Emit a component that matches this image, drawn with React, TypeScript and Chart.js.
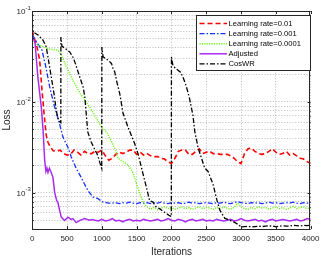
import React, { useEffect, useRef } from "react";
import { Chart, registerables } from "chart.js";

Chart.register(...registerables);

// ---- data (iteration, loss) ----
const seriesNames = ["Learning rate=0.01", "Learning rate=0.001", "Learning rate=0.0001", "Adjusted", "CosWR"];

const lr01: [number, number][] = [
  [0, 0.061], [25, 0.05], [57, 0.044], [106, 0.0288], [140, 0.0132], [178, 6.3e-3], [200, 4.3e-3], [225, 3.6e-3],
  [250, 3.3e-3], [300, 2.9e-3], [350, 2.86e-3], [400, 2.95e-3], [450, 2.7e-3], [500, 2.6e-3], [550, 2.65e-3],
  [600, 2.95e-3], [650, 2.8e-3], [700, 2.6e-3], [750, 2.86e-3], [800, 2.7e-3], [850, 2.7e-3], [900, 2.86e-3],
  [950, 2.8e-3], [1000, 2.95e-3], [1050, 2.55e-3], [1100, 2.28e-3], [1150, 2.4e-3], [1200, 2.65e-3], [1250, 2.8e-3],
  [1300, 2.7e-3], [1350, 2.8e-3], [1400, 2.95e-3], [1450, 2.95e-3], [1500, 2.65e-3], [1550, 2.8e-3], [1600, 2.6e-3],
  [1650, 2.7e-3], [1700, 2.55e-3], [1750, 2.5e-3], [1800, 2.5e-3], [1850, 2.4e-3], [1900, 2.35e-3], [1950, 2.2e-3],
  [2000, 2.1e-3], [2050, 2.4e-3], [2100, 2.86e-3], [2150, 2.95e-3], [2200, 2.95e-3], [2250, 2.65e-3], [2300, 2.65e-3],
  [2350, 2.86e-3], [2400, 3.05e-3], [2450, 2.7e-3], [2500, 2.8e-3], [2550, 2.86e-3], [2600, 2.7e-3], [2650, 2.7e-3],
  [2700, 2.65e-3], [2750, 2.65e-3], [2800, 2.65e-3], [2850, 2.55e-3], [2900, 2.4e-3], [2950, 2.2e-3], [3000, 2.1e-3],
  [3050, 2.7e-3], [3100, 3.05e-3], [3150, 3.1e-3], [3200, 2.86e-3], [3250, 2.7e-3], [3300, 2.65e-3], [3350, 2.7e-3],
  [3400, 2.86e-3], [3450, 3.05e-3], [3500, 2.8e-3], [3550, 2.65e-3], [3600, 2.7e-3], [3650, 2.86e-3], [3700, 2.6e-3],
  [3750, 2.7e-3], [3800, 2.55e-3], [3850, 2.4e-3], [3900, 2.35e-3], [3950, 2.2e-3], [4000, 2.1e-3],
];

const lr001: [number, number][] = [
  [0, 0.055], [70, 0.0444], [140, 0.037], [195, 0.0242], [250, 0.0146], [320, 8.8e-3], [370, 6.6e-3], [415, 4.9e-3],
  [440, 4.1e-3], [510, 3.19e-3], [560, 2.48e-3], [630, 1.86e-3], [700, 1.49e-3], [750, 1.25e-3], [800, 1.06e-3],
  [870, 8.98e-4], [940, 8.67e-4], [1010, 7.93e-4], [1060, 7.8e-4], [1100, 7.7e-4],
  [1150, 7.7e-4], [1200, 7.8e-4], [1250, 7.6e-4], [1300, 7.8e-4], [1350, 7.7e-4], [1400, 7.9e-4], [1450, 7.7e-4],
  [1500, 7.6e-4], [1550, 7.8e-4], [1600, 7.7e-4], [1650, 7.8e-4], [1700, 7.6e-4], [1750, 7.8e-4], [1800, 7.7e-4],
  [1850, 7.9e-4], [1900, 7.7e-4], [1950, 7.6e-4], [2000, 7.8e-4], [2050, 7.7e-4], [2100, 7.8e-4], [2150, 7.6e-4],
  [2200, 7.7e-4], [2250, 7.9e-4], [2300, 7.7e-4], [2350, 7.8e-4], [2400, 7.6e-4], [2450, 7.7e-4], [2500, 7.8e-4],
  [2550, 7.7e-4], [2600, 7.6e-4], [2650, 7.8e-4], [2700, 7.7e-4], [2750, 7.9e-4], [2800, 7.7e-4], [2850, 7.6e-4],
  [2900, 7.8e-4], [2950, 8.0e-4], [3000, 7.8e-4], [3050, 7.7e-4], [3100, 7.6e-4], [3150, 7.8e-4], [3200, 7.7e-4],
  [3250, 7.8e-4], [3300, 7.6e-4], [3350, 7.7e-4], [3400, 7.9e-4], [3450, 7.7e-4], [3500, 7.8e-4], [3550, 7.6e-4],
  [3600, 7.7e-4], [3650, 7.8e-4], [3700, 7.7e-4], [3750, 7.9e-4], [3800, 7.7e-4], [3850, 7.6e-4], [3900, 7.8e-4],
  [3950, 7.7e-4], [4000, 7.8e-4],
];

const lr0001: [number, number][] = [
  [0, 0.047], [60, 0.042], [140, 0.041], [250, 0.038], [370, 0.037], [420, 0.0327], [490, 0.0243], [580, 0.0175],
  [684, 0.0125], [827, 8.7e-3], [1010, 5.1e-3], [1070, 4.64e-3], [1185, 3.11e-3], [1230, 2.4e-3], [1300, 2.22e-3],
  [1370, 2.04e-3], [1440, 1.72e-3], [1500, 1.24e-3], [1545, 9.85e-4], [1590, 8.03e-4], [1640, 7.08e-4],
  [1700, 6.6e-4], [1750, 6.9e-4], [1800, 6.5e-4], [1850, 6.8e-4], [1900, 7.0e-4], [1950, 6.7e-4], [2000, 6.9e-4],
  [2050, 6.6e-4], [2100, 6.8e-4], [2150, 7.0e-4], [2200, 6.7e-4], [2250, 6.9e-4], [2300, 6.6e-4], [2350, 6.8e-4],
  [2400, 7.0e-4], [2450, 6.7e-4], [2500, 6.9e-4], [2550, 6.8e-4], [2600, 6.6e-4], [2650, 6.9e-4], [2700, 6.7e-4],
  [2750, 7.0e-4], [2800, 6.8e-4], [2850, 6.6e-4], [2900, 6.9e-4], [2950, 7.7e-4], [3000, 7.1e-4], [3050, 6.7e-4],
  [3100, 6.6e-4], [3150, 6.9e-4], [3200, 6.7e-4], [3250, 7.0e-4], [3300, 6.8e-4], [3350, 6.9e-4], [3400, 6.6e-4],
  [3450, 6.8e-4], [3500, 7.0e-4], [3550, 6.7e-4], [3600, 6.9e-4], [3650, 6.6e-4], [3700, 6.8e-4], [3750, 7.1e-4],
  [3800, 6.7e-4], [3850, 6.9e-4], [3900, 7.0e-4], [3950, 6.7e-4], [4000, 6.9e-4],
];

const adjusted: [number, number][] = [
  [0, 0.053], [40, 0.0444], [80, 0.0187], [130, 8.7e-3], [155, 4.87e-3], [178, 2.28e-3], [196, 1.72e-3],
  [211, 1.86e-3], [225, 1.67e-3], [246, 1.86e-3], [272, 1.67e-3], [297, 1.48e-3], [321, 1.01e-3], [350, 8.24e-4],
  [368, 7.85e-4], [393, 6.4e-4], [416, 5.4e-4], [464, 4.96e-4], [512, 5.4e-4], [555, 5.1e-4], [583, 5.2e-4],
  [631, 4.7e-4], [679, 4.95e-4], [751, 5.2e-4], [820, 5.0e-4], [860, 5.1e-4],
  [900, 5.0e-4], [950, 4.9e-4], [1000, 5.1e-4], [1050, 4.9e-4], [1100, 5.0e-4], [1150, 5.2e-4], [1200, 4.9e-4],
  [1250, 5.0e-4], [1300, 4.8e-4], [1350, 5.0e-4], [1400, 5.1e-4], [1450, 4.9e-4], [1500, 5.0e-4], [1550, 4.9e-4],
  [1600, 5.1e-4], [1650, 5.0e-4], [1700, 4.9e-4], [1750, 5.0e-4], [1800, 5.1e-4], [1850, 4.9e-4], [1900, 5.0e-4],
  [1950, 5.2e-4], [2000, 5.0e-4], [2050, 4.9e-4], [2100, 5.1e-4], [2150, 5.0e-4], [2200, 4.8e-4], [2250, 5.0e-4],
  [2300, 5.1e-4], [2350, 4.9e-4], [2400, 5.0e-4], [2450, 5.1e-4], [2500, 4.9e-4], [2550, 5.0e-4], [2600, 4.9e-4],
  [2650, 5.1e-4], [2700, 5.0e-4], [2750, 4.9e-4], [2800, 5.0e-4], [2850, 5.1e-4], [2900, 4.9e-4], [2950, 5.0e-4],
  [3000, 5.2e-4], [3050, 5.0e-4], [3100, 4.9e-4], [3150, 5.0e-4], [3200, 5.1e-4], [3250, 4.9e-4], [3300, 5.0e-4],
  [3350, 4.8e-4], [3400, 5.0e-4], [3450, 5.1e-4], [3500, 4.9e-4], [3550, 5.0e-4], [3600, 5.1e-4], [3650, 5.0e-4],
  [3700, 4.9e-4], [3750, 5.0e-4], [3800, 5.1e-4], [3850, 4.9e-4], [3900, 5.0e-4], [3950, 5.2e-4], [4000, 5.1e-4],
];

const cosWR: [number, number][] = [
  [0, 0.0738], [10, 0.059], [82, 0.0544], [153, 0.0479], [200, 0.0404], [225, 0.0313], [272, 0.0189], [311, 0.0125],
  [344, 8.1e-3], [368, 6.6e-3], [397, 6.0e-3], [410, 5.9e-3],
  [411, 0.0516], [425, 0.0411], [468, 0.039], [540, 0.0353], [592, 0.0303], [636, 0.0242], [683, 0.0187],
  [731, 0.0145], [755, 0.0113], [777, 7.1e-3], [798, 4.64e-3], [848, 3.6e-3], [898, 3.0e-3], [941, 2.58e-3],
  [970, 2.16e-3], [998, 1.86e-3],
  [1000, 0.0401], [1017, 0.0313], [1089, 0.0288], [1138, 0.0265], [1160, 0.0233], [1185, 0.0214], [1209, 0.0173],
  [1256, 0.0124], [1281, 9.6e-3], [1304, 7.5e-3], [1375, 5.3e-3], [1471, 3.48e-3], [1519, 2.7e-3], [1543, 2.28e-3],
  [1590, 1.63e-3], [1639, 1.16e-3], [1686, 8.2e-4], [1734, 7.9e-4], [1782, 6.95e-4], [1830, 6.7e-4], [1901, 6.1e-4],
  [1973, 5.6e-4], [1998, 5.5e-4],
  [2000, 0.0311], [2023, 0.0248], [2073, 0.023], [2130, 0.0212], [2166, 0.0187], [2213, 0.0149], [2259, 0.011],
  [2309, 7.1e-3], [2335, 4.75e-3], [2384, 3.11e-3], [2431, 2.42e-3], [2478, 1.87e-3], [2527, 1.72e-3],
  [2599, 1.23e-3], [2646, 8.75e-4], [2693, 6.5e-4], [2765, 5.26e-4], [2814, 5.07e-4], [2885, 4.84e-4],
  [2957, 4.5e-4], [3004, 4.2e-4], [3050, 4.25e-4], [3100, 4.3e-4], [3150, 4.2e-4], [3200, 4.25e-4], [3250, 4.3e-4],
  [3300, 4.25e-4], [3350, 4.3e-4], [3400, 4.35e-4], [3450, 4.3e-4], [3500, 4.25e-4], [3550, 4.3e-4], [3600, 4.35e-4],
  [3650, 4.3e-4], [3700, 4.3e-4], [3750, 4.4e-4], [3800, 4.35e-4], [3850, 4.3e-4], [3900, 4.4e-4], [3950, 4.35e-4],
  [4000, 4.4e-4],
];

const xTickValues = [0, 500, 1000, 1500, 2000, 2500, 3000, 3500, 4000];
const yMajorValues = [1e-3, 1e-2, 1e-1];
const yMajorBase = ["10", "10", "10"];
const yMajorExp = ["-3", "-2", "-1"];
const yGridValues = [
  4e-4, 5e-4, 6e-4, 7e-4, 8e-4, 9e-4,
  1e-3, 2e-3, 3e-3, 4e-3, 5e-3, 6e-3, 7e-3, 8e-3, 9e-3,
  1e-2, 2e-2, 3e-2, 4e-2, 5e-2, 6e-2, 7e-2, 8e-2, 9e-2, 1e-1,
];

const FONT = "'Liberation Sans', Arial, Helvetica, sans-serif";
const AXIS_COLOR = "#262626";

const styles = [
  { color: "#ff0000", dash: [5, 3], width: 1.6 },
  { color: "#1430ff", dash: [5, 2, 1.5, 2], width: 1.3 },
  { color: "#6cf51c", dash: [1.2, 1.2], width: 1.4 },
  { color: "#a82cf0", dash: [], width: 1.5 },
  { color: "#000000", dash: [5, 2, 1.5, 2], width: 1.3 },
];

const toPts = (arr: [number, number][]) => arr.map(([x, y]) => ({ x, y }));

const framePlugin = {
  id: "frame",
  afterDraw(chart: any) {
    const { ctx, chartArea } = chart;
    const { left, right, top, bottom } = chartArea;
    const xs = chart.scales.x;
    const ys = chart.scales.y;
    ctx.save();
    ctx.strokeStyle = AXIS_COLOR;
    ctx.lineWidth = 1;
    ctx.setLineDash([]);
    ctx.strokeRect(Math.round(left) + 0.5, Math.round(top) + 0.5, Math.round(right - left) - 1, Math.round(bottom - top));
    ctx.beginPath();
    xTickValues.forEach((v) => {
      const x = Math.round(xs.getPixelForValue(v)) + 0.5;
      ctx.moveTo(x, bottom);
      ctx.lineTo(x, bottom - 3);
      ctx.moveTo(x, top);
      ctx.lineTo(x, top + 3);
    });
    yGridValues.forEach((v) => {
      const y = Math.round(ys.getPixelForValue(v)) + 0.5;
      const major = yMajorValues.some((m) => Math.abs(m - v) / m < 1e-6);
      const len = major ? 3 : 1.6;
      ctx.moveTo(left, y);
      ctx.lineTo(left + len, y);
      ctx.moveTo(right, y);
      ctx.lineTo(right - len, y);
    });
    ctx.stroke();

    // y tick labels: 10 with superscript exponent
    ctx.fillStyle = AXIS_COLOR;
    ctx.textBaseline = "middle";
    yMajorValues.forEach((v, i) => {
      const y = ys.getPixelForValue(v);
      ctx.font = `6px ${FONT}`;
      ctx.textAlign = "right";
      const expW = ctx.measureText(yMajorExp[i]).width;
      ctx.fillText(yMajorExp[i], left - 1.5, y - 3);
      ctx.font = `8px ${FONT}`;
      ctx.fillText(yMajorBase[i], left - 1.5 - expW, y + 1);
    });
    ctx.restore();
  },
};

const legendPlugin = {
  id: "customLegend",
  afterDraw(chart: any) {
    const { ctx } = chart;
    const bx = 196.5, by = 15.5, bw = 114, bh = 55;
    ctx.save();
    ctx.fillStyle = "#ffffff";
    ctx.fillRect(bx, by, bw, bh);
    ctx.strokeStyle = AXIS_COLOR;
    ctx.lineWidth = 1;
    ctx.setLineDash([]);
    ctx.strokeRect(bx, by, bw, bh);
    ctx.font = `7.6px ${FONT}`;
    ctx.textBaseline = "middle";
    ctx.textAlign = "left";
    seriesNames.forEach((name, i) => {
      const y = 23.5 + i * 10.1;
      const s = styles[i];
      ctx.strokeStyle = s.color;
      ctx.lineWidth = s.width;
      ctx.setLineDash(s.dash);
      ctx.beginPath();
      ctx.moveTo(199.5, y);
      ctx.lineTo(227, y);
      ctx.stroke();
      ctx.fillStyle = "#000000";
      ctx.fillText(name, 228.5, y + 0.5);
    });
    ctx.restore();
  },
};

export default function App() {
  const canvasRef = useRef<HTMLCanvasElement | null>(null);

  useEffect(() => {
    document.body.style.margin = "0";
    const canvas = canvasRef.current;
    if (!canvas) return;
    const allSeries = [lr01, lr001, lr0001, adjusted, cosWR];
    const chart = new Chart(canvas, {
      type: "line",
      data: {
        datasets: allSeries.map((s, i) => ({
          label: seriesNames[i],
          data: toPts(s),
          borderColor: styles[i].color,
          borderWidth: styles[i].width,
          borderDash: styles[i].dash,
          pointRadius: 0,
          fill: false,
          tension: 0,
          order: 4 - i,
        })),
      },
      options: {
        animation: false,
        responsive: false,
        maintainAspectRatio: false,
        events: [],
        layout: { padding: { top: 11, right: 12.5, left: 0, bottom: 0 } },
        plugins: { legend: { display: false }, tooltip: { enabled: false } },
        scales: {
          x: {
            type: "linear",
            min: 0,
            max: 4000,
            afterBuildTicks: (scale: any) => {
              scale.ticks = xTickValues.map((v) => ({ value: v }));
            },
            afterFit: (scale: any) => {
              scale.height = 33;
            },
            ticks: {
              autoSkip: false,
              maxRotation: 0,
              padding: 4.5,
              color: AXIS_COLOR,
              font: { family: FONT, size: 8 },
              callback: (v: any) => String(v),
            },
            grid: { color: "#b8b8b8", lineWidth: 0.8, drawTicks: false },
            border: { display: false, dash: [1.2, 1.6] },
            title: {
              display: true,
              text: "Iterations",
              color: AXIS_COLOR,
              font: { family: FONT, size: 10 },
              padding: { top: 0, bottom: 4 },
            },
          },
          y: {
            type: "logarithmic",
            min: 4e-4,
            max: 0.1,
            afterBuildTicks: (scale: any) => {
              scale.ticks = yGridValues.map((v) => ({ value: v }));
            },
            afterFit: (scale: any) => {
              scale.width = 32.3;
            },
            ticks: {
              autoSkip: false,
              padding: 2,
              color: "rgba(0,0,0,0)",
              font: { family: FONT, size: 8 },
              callback: () => "",
            },
            grid: { color: "#b8b8b8", lineWidth: 0.8, drawTicks: false },
            border: { display: false, dash: [1.2, 1.6] },
            title: {
              display: true,
              text: "Loss",
              color: AXIS_COLOR,
              font: { family: FONT, size: 10 },
              padding: { top: 1.5, bottom: 0 },
            },
          },
        },
      },
      plugins: [framePlugin, legendPlugin],
    } as any);
    return () => chart.destroy();
  }, []);

  return (
    <div style={{ width: 324, height: 262 }}>
      <canvas ref={canvasRef} width={324} height={262} style={{ display: "block" }} />
    </div>
  );
}
